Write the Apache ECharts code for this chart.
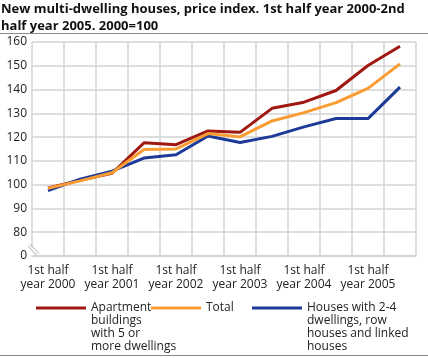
<!DOCTYPE html>
<html><head><meta charset="utf-8">
<script src="https://cdn.jsdelivr.net/npm/echarts@6/dist/echarts.min.js"></script>
<style>html,body{margin:0;padding:0;background:#fff}#c{width:428px;height:358px}</style>
</head><body><div id="c"></div>
<script>
const categories = ["1st half\nyear 2000","2nd half\nyear 2000","1st half\nyear 2001","2nd half\nyear 2001","1st half\nyear 2002","2nd half\nyear 2002","1st half\nyear 2003","2nd half\nyear 2003","1st half\nyear 2004","2nd half\nyear 2004","1st half\nyear 2005","2nd half\nyear 2005"];
const apartments = [98.6, 101.8, 104.8, 117.6, 116.8, 122.6, 122.0, 132.1, 134.7, 139.6, 150.1, 158.2];
const total      = [98.5, 101.6, 105.0, 114.8, 115.0, 121.5, 120.1, 126.8, 130.3, 134.5, 140.5, 150.8];
const houses     = [97.5, 102.3, 105.7, 111.2, 112.6, 120.5, 117.7, 120.3, 124.3, 127.8, 127.8, 141.0];
const seriesNames = ["Apartment buildings with 5 or more dwellings", "Total", "Houses with 2-4 dwellings, row houses and linked houses"];
const legendLabels = ["Apartment\nbuildings\nwith 5 or\nmore dwellings", "Total", "Houses with 2-4\ndwellings, row\nhouses and linked\nhouses"];
const yTicks = [70, 80, 90, 100, 110, 120, 130, 140, 150, 160];
const yTickLabels = ["0", "80", "90", "100", "110", "120", "130", "140", "150", "160"];
const titleText = "New multi-dwelling houses, price index. 1st half year 2000-2nd\nhalf year 2005. 2000=100";

const colors = ["#a01812", "#f99c32", "#1e3a98"];
const font = "'Open Sans', sans-serif";
const chart = echarts.init(document.getElementById('c'), null, {renderer: 'canvas'});

function legendFor(i, left, top, text) {
  return {
    data: [seriesNames[i]], left: left, top: top, padding: 0,
    icon: 'rect', itemWidth: 50, itemHeight: 3, selectedMode: false,
    formatter: () => text,
    textStyle: {fontFamily: font, fontSize: 12, color: '#222', lineHeight: 13}
  };
}

const option = {
  animation: false,
  title: {
    text: titleText, left: 1, top: 1, padding: 0,
    textStyle: {fontFamily: font, fontSize: 13, fontWeight: 'bold', color: '#111', lineHeight: 17}
  },
  legend: [
    legendFor(0, 36, 262.5, "\n\n\n" + legendLabels[0]),
    legendFor(1, 151, 301.5, legendLabels[1]),
    legendFor(2, 252, 262.5, "\n\n\n" + legendLabels[2])
  ],
  grid: {left: 32, right: 12, top: 42, bottom: 102, containLabel: false},
  xAxis: [{
    type: 'category', data: categories, boundaryGap: true,
    axisLine: {show: true, lineStyle: {color: '#cfcfcf', width: 1.5}},
    axisTick: {show: false},
    splitLine: {show: false},
    axisLabel: {
      interval: 1, margin: 8, fontFamily: font, fontSize: 12, color: '#222', lineHeight: 14,
      formatter: v => v
    }
  }, {
    type: 'value', min: -0.5, max: 11.5, interval: 1, position: 'bottom',
    axisLine: {show: false}, axisTick: {show: false}, axisLabel: {show: false},
    splitLine: {show: true, lineStyle: {color: '#d3d3d3', width: 1.5}}
  }],
  yAxis: {
    type: 'value', min: yTicks[0], max: yTicks[yTicks.length - 1], interval: 10,
    axisLine: {show: false}, axisTick: {show: false},
    axisLabel: {
      margin: 5, fontFamily: font, fontSize: 12, color: '#222',
      formatter: v => yTickLabels[yTicks.indexOf(v)]
    },
    splitLine: {show: true, lineStyle: {color: '#d3d3d3', width: 1.5}}
  },
  series: [
    {name: seriesNames[0], type: 'line', data: apartments, symbol: 'none', z: 3,
     lineStyle: {color: colors[0], width: 3}, itemStyle: {color: colors[0]}},
    {name: seriesNames[2], type: 'line', data: houses, symbol: 'none', z: 4,
     lineStyle: {color: colors[2], width: 3}, itemStyle: {color: colors[2]}},
    {name: seriesNames[1], type: 'line', data: total, symbol: 'none', z: 5,
     lineStyle: {color: colors[1], width: 3}, itemStyle: {color: colors[1]}}
  ]
};
chart.setOption(option);

// axis break marker between 0 and 80
const xL = chart.convertToPixel({xAxisIndex: 1}, -0.5);
const yTop = chart.convertToPixel({yAxisIndex: 0}, 73.5);
const yBot = chart.convertToPixel({yAxisIndex: 0}, 70.3);
const yB = chart.convertToPixel({yAxisIndex: 0}, 73);
chart.setOption({
  graphic: [
    {type: 'rect', shape: {x: xL - 2, y: yTop, width: 4, height: yBot - yTop}, style: {fill: '#fff'}, z: 100, silent: true},
    {type: 'line', shape: {x1: xL - 4, y1: yB - 3, x2: xL + 5, y2: yB + 7}, style: {stroke: '#c8c8c8', lineWidth: 1.2}, z: 101, silent: true},
    {type: 'line', shape: {x1: xL - 2, y1: yB - 5, x2: xL + 7, y2: yB + 5}, style: {stroke: '#c8c8c8', lineWidth: 1.2}, z: 101, silent: true},
    {type: 'line', shape: {x1: 0, y1: 33.5, x2: 428, y2: 33.5}, style: {stroke: '#8a8a8a', lineWidth: 1}, z: 100, silent: true},
    {type: 'line', shape: {x1: 0, y1: 355.5, x2: 428, y2: 355.5}, style: {stroke: '#8a8a8a', lineWidth: 1}, z: 100, silent: true}
  ]
});
</script></body></html>
